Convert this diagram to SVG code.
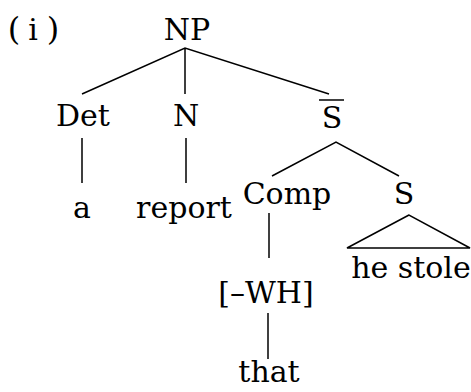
<svg xmlns="http://www.w3.org/2000/svg" width="471" height="392" viewBox="0 0 471 392">
<style>
text{font-family:"DejaVu Serif","Liberation Serif",serif;font-size:30px;fill:#000;text-anchor:middle}
.l{stroke:#000;stroke-width:1.5;fill:none}
</style>
<rect width="471" height="392" fill="#fff"/>
<g id="label"><text x="14" y="40" style="font-size:32px">(</text><text x="33" y="40">i</text><text x="53" y="40" style="font-size:32px">)</text></g>
<g id="NP"><text x="187" y="40">NP</text></g>
<g id="Det"><text x="83" y="126">Det</text></g>
<g id="N"><text x="186" y="126">N</text></g>
<g id="Sbar"><text x="332" y="128">S</text><line class="l" x1="319" y1="100" x2="344" y2="100"/></g>
<g id="a"><text x="82" y="218">a</text></g>
<g id="report"><text x="184" y="218">report</text></g>
<g id="Comp"><text x="287" y="204">Comp</text></g>
<g id="S"><text x="404" y="204">S</text></g>
<g id="hestole"><text x="411" y="278">he stole</text></g>
<g id="WH"><text x="266" y="303">[–WH]</text></g>
<g id="that"><text x="269" y="382">that</text></g>
<g id="connectors">
<path class="l" d="M82,94 L185,48 L329,94 M185,48 V94"/>
<path class="l" d="M82,138 V183 M186,138 V183"/>
<path class="l" d="M272,176 L336,142 L399,176"/>
<path class="l" d="M269,213 V258"/>
<path class="l" d="M409,215 L347,248 L470,248 Z"/>
<path class="l" d="M268,313 V359"/>
</g>
</svg>
